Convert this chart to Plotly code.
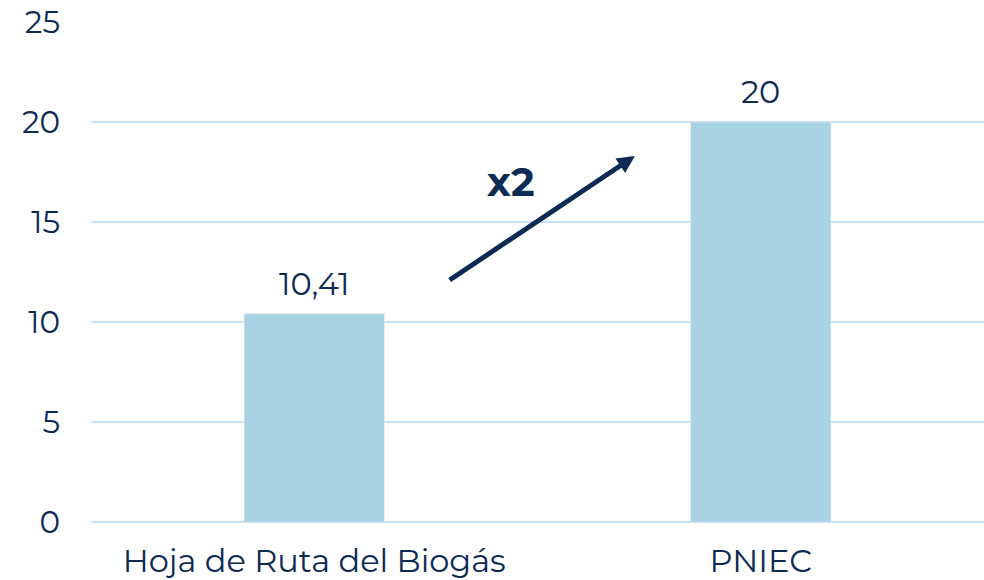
import plotly.graph_objects as go

categorias = ["Hoja de Ruta del Biogás", "PNIEC"]
valores = [10.41, 20]
etiquetas = ["10,41", "20"]

navy = "#0c2b54"
fuente = "Montserrat, Open Sans, sans-serif"

fig = go.Figure()
fig.add_trace(go.Bar(
    x=categorias, y=valores,
    marker_color="#a7d3e2",
))

# etiquetas de valor sobre las barras
for c, v, t in zip(categorias, valores, etiquetas):
    fig.add_annotation(x=c, y=v, text=t, showarrow=False, yanchor="bottom",
                       yshift=9, font=dict(size=32, color=navy, family=fuente))

# flecha x2
fig.add_annotation(x=0.718, y=18.3, ax=0.30, ay=12.05,
                   xref="x", yref="y", axref="x", ayref="y",
                   text="", showarrow=True, arrowhead=2, arrowsize=0.7,
                   arrowwidth=5, arrowcolor=navy)
fig.add_annotation(x=0.44, y=17.05, xref="x", yref="y", text="<b>x2</b>",
                   showarrow=False, font=dict(size=40, color=navy, family=fuente))

fig.update_layout(
    width=984, height=580, plot_bgcolor="white", paper_bgcolor="white",
    margin=dict(l=91, r=0, t=22, b=58),
    bargap=0.686, showlegend=False,
    font=dict(family=fuente, color=navy, size=32),
)
fig.update_yaxes(range=[0, 25], dtick=5, gridcolor="#c6e1f8", gridwidth=2,
                 zeroline=True, zerolinecolor="#c6e1f8", zerolinewidth=2,
                 automargin=False, ticklabelstandoff=30, tickfont=dict(size=31),
                 ticklabeloverflow="allow")
fig.update_xaxes(tickfont=dict(size=32), ticklabelstandoff=17, showline=False,
                 automargin=False, ticklabeloverflow="allow")

# sin el margen de 8px del body ni barras de scroll
fig.write_html("out.html", config={"displayModeBar": False},
               post_script="document.body.style.margin='0px';"
                           "document.body.style.overflow='hidden';")
